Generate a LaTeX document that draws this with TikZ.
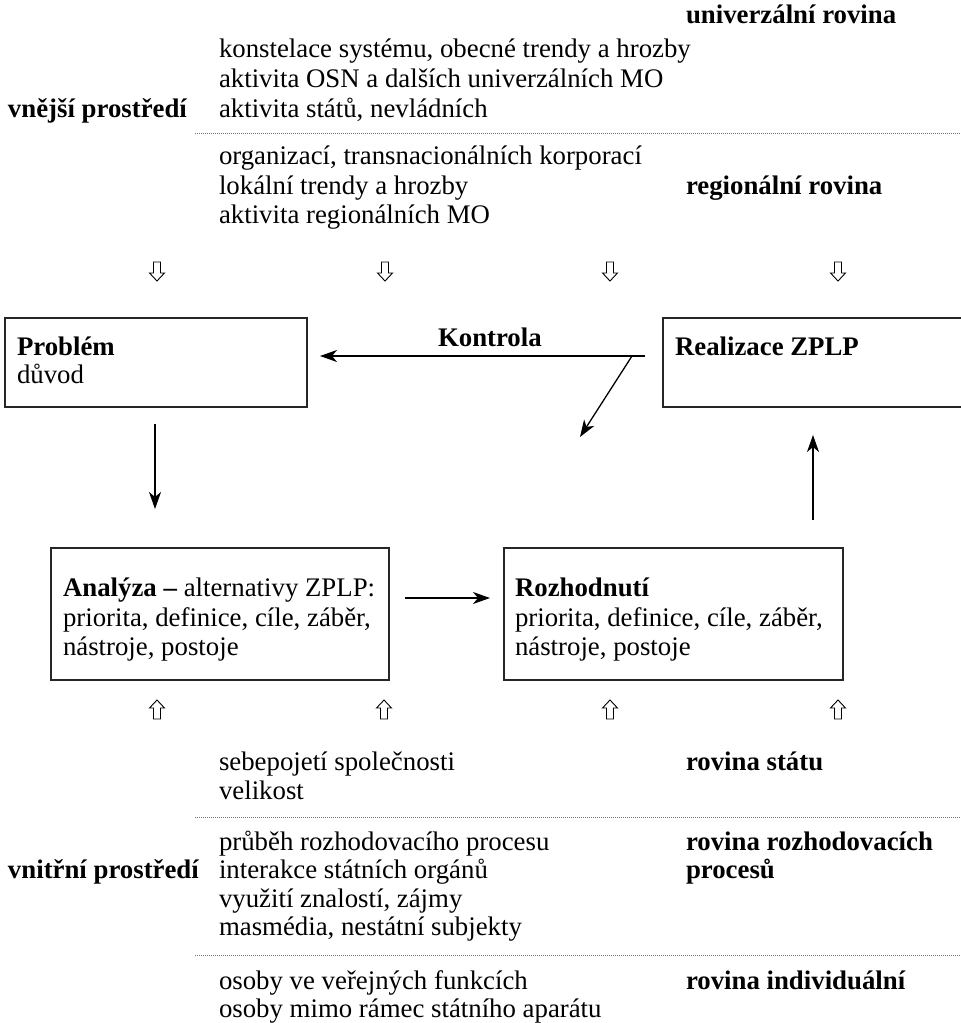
\documentclass[tikz,border=0pt]{standalone}
\usepackage{fontspec}
\setmainfont{Liberation Serif}
\usetikzlibrary{arrows.meta,calc}
\tikzset{
  pics/hdown/.style={code={\draw[hollow] (-3.5,0) -- (3.5,0) -- (3.5,11) -- (7.5,11) -- (0,19) -- (-7.5,11) -- (-3.5,11) -- cycle;}},
  pics/hup/.style={code={\draw[hollow] (-3.5,19) -- (3.5,19) -- (3.5,8) -- (7.5,8) -- (0,0) -- (-7.5,8) -- (-3.5,8) -- cycle;}},
}
\begin{document}
\begin{tikzpicture}[x=1pt,y=-1pt,
  every node/.style={inner sep=0pt, outer sep=0pt},
  txt/.style={anchor=base west, font=\fontsize{26.8}{29}\selectfont},
  btxt/.style={anchor=base west, font=\fontsize{26.8}{29}\selectfont\bfseries},
  box/.style={draw=black!85, line width=1.4pt, anchor=north west},
  arr/.style={line width=1.3pt, -{Stealth[length=17pt,width=12pt,inset=5pt]}},
  sep/.style={draw=black!55, line width=0.9pt, dash pattern=on 1pt off 1pt},
  hollow/.style={draw=black, line width=0.9pt, fill=white}
]
\useasboundingbox (0,0) rectangle (961,1023);

% ---------- outer environment ----------
\node[btxt] (univ) at (686,23) {univerzální rovina};
\node[txt] (u1) at (219,57) {konstelace systému, obecné trendy a hrozby};
\node[txt] (u2) at (219,87) {aktivita OSN a dalších univerzálních MO};
\node[txt] (u3) at (219,117) {aktivita států, nevládních};
\node[btxt] (vnejsi) at (8,117) {vnější prostředí};
\draw[sep] (195,133) -- (961,133);
\node[txt] (r1) at (219,164) {organizací, transnacionálních korporací};
\node[txt] (r2) at (219,194) {lokální trendy a hrozby};
\node[btxt] (reg) at (686,194) {regionální rovina};
\node[txt] (r3) at (219,223) {aktivita regionálních MO};

\pic at (157,262) {hdown};
\pic at (385,262) {hdown};
\pic at (610,262) {hdown};
\pic at (838,262) {hdown};

% ---------- boxes ----------
\node[box, minimum width=302pt, minimum height=89pt] (prob) at (5,318) {};
\node[btxt] (probT) at (17,355) {Problém};
\node[txt] (probD) at (17,383) {důvod};

\node[box, minimum width=320pt, minimum height=89pt] (real) at (663,318) {};
\node[btxt] (realT) at (675,355) {Realizace ZPLP};

\node[btxt] (kontrola) at (438,346) {Kontrola};
\coordinate (kstart) at ($(real.north west)+(-18,38)$);
\coordinate (kbranch) at ($(real.north west)+(-31,38)$);
\coordinate (kend) at ($(prob.north east)+(13,38)$);
\coordinate (dend) at (580,437);
\draw[arr] (kstart) -- (kend);
\draw[arr] (kbranch) -- (dend);

\node[box, minimum width=338pt, minimum height=132pt] (anal) at (51,548) {};
\node[txt] (a1) at (63,596) {\textbf{Analýza –} alternativy ZPLP:};
\node[txt] (a2) at (63,626) {priorita, definice, cíle, záběr,};
\node[txt] (a3) at (63,655) {nástroje, postoje};

\node[box, minimum width=339pt, minimum height=132pt] (rozh) at (504,548) {};
\node[btxt] (z1) at (515,596) {Rozhodnutí};
\node[txt] (z2) at (515,626) {priorita, definice, cíle, záběr,};
\node[txt] (z3) at (515,655) {nástroje, postoje};

\coordinate (dtop) at ($(prob.south west)+(150,17)$);
\coordinate (dtip) at ($(prob.south west)+(150,102)$);
\draw[arr] (dtop) -- (dtip);
\draw[arr] ($(real.south west)+(150,113)$) -- ($(real.south west)+(150,28)$);
\draw[arr] ($(anal.east)+(16,-16)$) -- ($(rozh.west)+(-14,-16)$);

\pic at (157,700) {hup};
\pic at (384,700) {hup};
\pic at (610,700) {hup};
\pic at (838,700) {hup};

% ---------- inner environment ----------
\node[txt] (s1) at (219,770) {sebepojetí společnosti};
\node[btxt] (stat) at (686,770) {rovina státu};
\node[txt] (s2) at (219,799) {velikost};
\draw[sep] (195,817) -- (961,817);
\node[txt] (p1) at (219,850) {průběh rozhodovacího procesu};
\node[btxt] (proc1) at (686,850) {rovina rozhodovacích};
\node[txt] (p2) at (219,878) {interakce státních orgánů};
\node[btxt] (proc2) at (686,878) {procesů};
\node[btxt] (vnitrni) at (8,878) {vnitřní prostředí};
\node[txt] (p3) at (219,907) {využití znalostí, zájmy};
\node[txt] (p4) at (219,935) {masmédia, nestátní subjekty};
\draw[sep] (195,955) -- (961,955);
\node[txt] (i1) at (219,989) {osoby ve veřejných funkcích};
\node[btxt] (indiv) at (686,989) {rovina individuální};
\node[txt] (i2) at (219,1017) {osoby mimo rámec státního aparátu};
\end{tikzpicture}
\end{document}
